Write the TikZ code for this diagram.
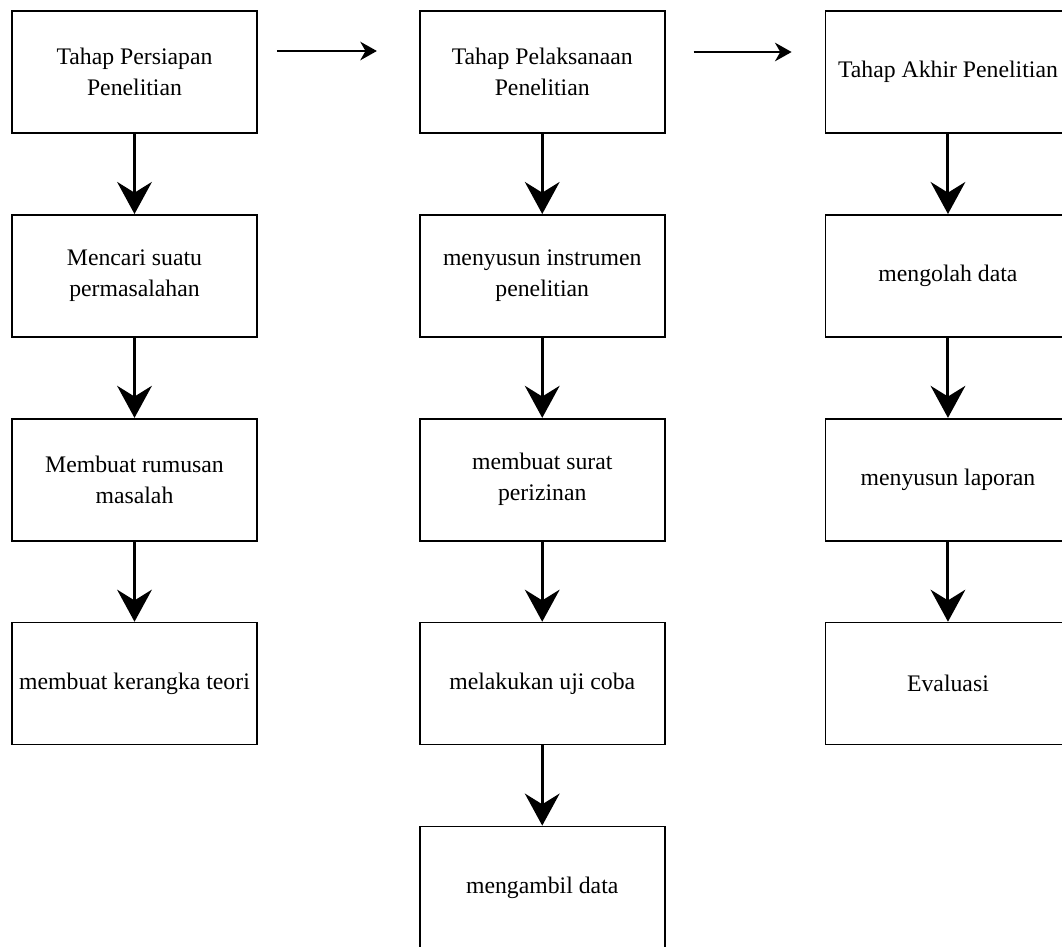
\documentclass[tikz,border=0pt]{standalone}
\usepackage{fontspec}
\setmainfont{Liberation Serif}
\usetikzlibrary{positioning,arrows.meta}
\tikzset{
    step-box/.style = {draw=black, line width=1.3pt, fill=white, rectangle, minimum width=183.75pt, minimum height=91.5pt, inner sep=1pt, align=center, font=\fontsize{17.8}{23.25}\selectfont},
    down-arrow/.style = {line width=2.25pt, -{Stealth[length=24pt, width=26pt, inset=8pt]}},
    next-arrow/.style = {line width=1.1pt, -{Stealth[length=12.5pt, width=14pt, inset=4pt]}},
}

\begin{document}
\begin{tikzpicture}[x=0.75pt, y=-0.75pt, node distance=60.1pt and 120.75pt]
\useasboundingbox (0,0) rectangle (1062,946);
% tahap persiapan
\node [step-box] (persiapan) at (134.5,72) {Tahap Persiapan\\Penelitian};
\node [step-box, below=of persiapan] (masalah) {Mencari suatu\\permasalahan};
\node [step-box, below=of masalah] (rumusan) {Membuat rumusan\\masalah};
\node [step-box, below=of rumusan] (teori) {membuat kerangka teori};
% tahap pelaksanaan
\node [step-box, right=of persiapan] (pelaksanaan) {Tahap Pelaksanaan\\Penelitian};
\node [step-box, below=of pelaksanaan] (instrumen) {menyusun instrumen\\penelitian};
\node [step-box, below=of instrumen] (perizinan) {membuat surat\\perizinan};
\node [step-box, below=of perizinan] (ujicoba) {melakukan uji coba};
\node [step-box, below=of ujicoba] (ambil) {mengambil data};
% tahap akhir
\node [step-box, right=119.25pt of pelaksanaan] (akhir) {Tahap Akhir Penelitian};
\node [step-box, below=of akhir] (olah) {mengolah data};
\node [step-box, below=of olah] (laporan) {menyusun laporan};
\node [step-box, below=of laporan] (evaluasi) {Evaluasi};

\draw [next-arrow] ([xshift=14.25pt, yshift=15.75pt]persiapan.east) -- ([xshift=-31.5pt, yshift=15.75pt]pelaksanaan.west);
\draw [next-arrow] ([xshift=21pt, yshift=15pt]pelaksanaan.east) -- ([xshift=-24.75pt, yshift=15pt]akhir.west);

\draw [down-arrow] (persiapan) -- (masalah);
\draw [down-arrow] (masalah) -- (rumusan);
\draw [down-arrow] (rumusan) -- (teori);
\draw [down-arrow] (pelaksanaan) -- (instrumen);
\draw [down-arrow] (instrumen) -- (perizinan);
\draw [down-arrow] (perizinan) -- (ujicoba);
\draw [down-arrow] (ujicoba) -- (ambil);
\draw [down-arrow] (akhir) -- (olah);
\draw [down-arrow] (olah) -- (laporan);
\draw [down-arrow] (laporan) -- (evaluasi);
\end{tikzpicture}
\end{document}
